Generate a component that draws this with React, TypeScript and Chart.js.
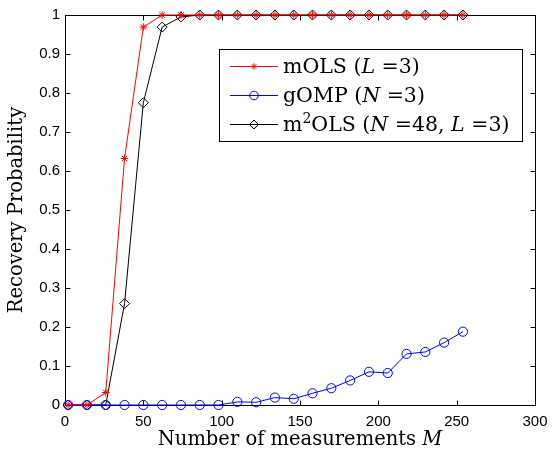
import { useEffect, useRef } from "react";
import { Chart, registerables } from "chart.js";
Chart.register(...registerables);

// ---- data ----
const measurements = [2, 14, 26, 38, 50, 62, 74, 86, 98, 110, 122, 134, 146, 158, 170, 182, 194, 206, 218, 230, 242, 254];
const mOLS = [0, 0, 0.032, 0.632, 0.969, 1, 1, 1, 1, 1, 1, 1, 1, 1, 1, 1, 1, 1, 1, 1, 1, 1];
const gOMP = [0, 0, 0, 0, 0, 0, 0, 0, 0, 0.008, 0.007, 0.019, 0.016, 0.03, 0.043, 0.063, 0.085, 0.082, 0.131, 0.136, 0.16, 0.188];
const m2OLS = [0, 0, 0, 0.26, 0.775, 0.969, 0.995, 1, 1, 1, 1, 1, 1, 1, 1, 1, 1, 1, 1, 1, 1, 1];
const xTicks = [0, 50, 100, 150, 200, 250, 300];
const yTicks = [0, 0.1, 0.2, 0.3, 0.4, 0.5, 0.6, 0.7, 0.8, 0.9, 1];
const yTickLabels = ["0", "0.1", "0.2", "0.3", "0.4", "0.5", "0.6", "0.7", "0.8", "0.9", "1"];
const xTitleParts = [
  { t: "Number of measurements " },
  { t: "M", it: true },
];
const yTitle = "Recovery Probability";
const legendLabels = [
  [{ t: "mOLS (" }, { t: "L", it: true }, { t: " =3)" }],
  [{ t: "gOMP (" }, { t: "N", it: true }, { t: " =3)" }],
  [{ t: "m" }, { t: "2", sup: true }, { t: "OLS (" }, { t: "N", it: true }, { t: " =48, " }, { t: "L", it: true }, { t: " =3)" }],
];

// ---- styles ----
const SERIF = "'DejaVu Serif', serif";
const SANS = "'Liberation Sans', Arial, sans-serif";
const TITLE_SIZE = 19.5;
const LEGEND_SIZE = 20.5;
const COLORS = ["#ff0000", "#0000ff", "#000000"];
const MARKERS = ["star", "circle", "rectRot"];
const RADII = [3.8, 4.6, 5];
const LEGEND_RADII = [3.2, 4.3, 4.5];

type Part = { t: string; it?: boolean; sup?: boolean };

function drawRich(ctx: CanvasRenderingContext2D, parts: Part[], x: number, y: number, size: number, align: "left" | "center") {
  const fontFor = (p: Part) => `${p.it ? "italic " : ""}${p.sup ? Math.round(size * 0.7) : size}px ${SERIF}`;
  let total = 0;
  for (const p of parts) {
    ctx.font = fontFor(p);
    total += ctx.measureText(p.t).width;
  }
  let cx = align === "center" ? x - total / 2 : x;
  ctx.textAlign = "left";
  ctx.textBaseline = "alphabetic";
  for (const p of parts) {
    ctx.font = fontFor(p);
    ctx.fillText(p.t, cx, p.sup ? y - size * 0.4 : y);
    cx += ctx.measureText(p.t).width;
  }
}

function drawMarker(ctx: CanvasRenderingContext2D, style: string, x: number, y: number, r: number, color: string) {
  ctx.save();
  ctx.strokeStyle = color;
  ctx.lineWidth = 1;
  ctx.beginPath();
  if (style === "circle") {
    ctx.arc(x, y, r, 0, Math.PI * 2);
  } else if (style === "rectRot") {
    ctx.moveTo(x, y - r);
    ctx.lineTo(x + r, y);
    ctx.lineTo(x, y + r);
    ctx.lineTo(x - r, y);
    ctx.closePath();
  } else {
    const d = r * Math.SQRT1_2;
    ctx.moveTo(x - r, y); ctx.lineTo(x + r, y);
    ctx.moveTo(x, y - r); ctx.lineTo(x, y + r);
    ctx.moveTo(x - d, y - d); ctx.lineTo(x + d, y + d);
    ctx.moveTo(x - d, y + d); ctx.lineTo(x + d, y - d);
  }
  ctx.stroke();
  ctx.restore();
}

const framePlugin = {
  id: "frame",
  beforeDatasetsDraw(chart: any) {
    const { ctx, chartArea, scales } = chart;
    const L = Math.round(chartArea.left) + 0.5;
    const R = Math.round(chartArea.right) + 0.5;
    const T = Math.round(chartArea.top) + 0.5;
    const B = Math.round(chartArea.bottom) + 0.5;
    ctx.save();
    ctx.strokeStyle = "#000";
    ctx.lineWidth = 1;
    ctx.strokeRect(L, T, R - L, B - T);
    ctx.beginPath();
    for (const v of xTicks) {
      const px = Math.round(scales.x.getPixelForValue(v)) + 0.5;
      ctx.moveTo(px, B); ctx.lineTo(px, B - 5);
      ctx.moveTo(px, T); ctx.lineTo(px, T + 5);
    }
    for (const v of yTicks) {
      const py = Math.round(scales.y.getPixelForValue(v)) + 0.5;
      ctx.moveTo(L, py); ctx.lineTo(L + 5, py);
      ctx.moveTo(R, py); ctx.lineTo(R - 5, py);
    }
    ctx.stroke();
    ctx.restore();
  },
  afterDatasetsDraw(chart: any) {
    const { ctx, chartArea } = chart;
    ctx.save();
    ctx.fillStyle = "#000";
    // x title
    drawRich(ctx, xTitleParts, (chartArea.left + chartArea.right) / 2, 445, TITLE_SIZE, "center");
    // y title
    ctx.save();
    ctx.translate(22, (chartArea.top + chartArea.bottom) / 2);
    ctx.rotate(-Math.PI / 2);
    drawRich(ctx, [{ t: yTitle }], 0, 0, TITLE_SIZE, "center");
    ctx.restore();
    // legend
    const bx = 219.5, by = 49.5, bw = 303, bh = 92;
    ctx.fillStyle = "#fff";
    ctx.fillRect(bx, by, bw, bh);
    ctx.strokeStyle = "#000";
    ctx.lineWidth = 1;
    ctx.strokeRect(bx, by, bw, bh);
    const rowsY = [66, 95, 124];
    legendLabels.forEach((parts, i) => {
      const y = rowsY[i];
      ctx.strokeStyle = COLORS[i];
      ctx.beginPath();
      ctx.moveTo(230, y + 0.5);
      ctx.lineTo(278, y + 0.5);
      ctx.stroke();
      drawMarker(ctx, MARKERS[i], 254, y + 0.5, LEGEND_RADII[i], COLORS[i]);
      ctx.fillStyle = "#000";
      drawRich(ctx, parts as Part[], 283, y + 7, LEGEND_SIZE, "left");
    });
    ctx.restore();
  },
};

export default function App() {
  const ref = useRef<HTMLCanvasElement>(null);
  useEffect(() => {
    const canvas = ref.current!;
    const series = [mOLS, gOMP, m2OLS];
    const chart = new Chart(canvas, {
      type: "line",
      data: {
        datasets: series.map((vals, i) => ({
          data: measurements.map((m, j) => ({ x: m, y: vals[j] })),
          borderColor: COLORS[i],
          backgroundColor: "rgba(0,0,0,0)",
          borderWidth: 1,
          pointStyle: MARKERS[i] as any,
          pointRadius: RADII[i],
          pointBorderColor: COLORS[i],
          pointBackgroundColor: "rgba(0,0,0,0)",
          pointBorderWidth: 1,
          tension: 0,
          clip: false as any,
        })),
      },
      options: {
        animation: false,
        responsive: false,
        devicePixelRatio: 1,
        layout: { padding: { left: 0, top: 15, right: 17, bottom: 0 } },
        plugins: { legend: { display: false }, tooltip: { enabled: false } },
        scales: {
          x: {
            type: "linear",
            min: 0,
            max: 300,
            afterBuildTicks: (s: any) => { s.ticks = xTicks.map((v) => ({ value: v })); },
            afterFit: (s: any) => { s.height = 49; s.paddingLeft = 0; s.paddingRight = 0; },
            grid: { display: false, drawTicks: false },
            border: { display: false },
            ticks: { font: { family: SANS, size: 15 }, color: "#000", padding: 8, maxRotation: 0 },
          },
          y: {
            type: "linear",
            min: 0,
            max: 1,
            afterBuildTicks: (s: any) => { s.ticks = yTicks.map((v) => ({ value: v })); },
            afterFit: (s: any) => { s.width = 65; s.paddingTop = 0; s.paddingBottom = 0; },
            grid: { display: false, drawTicks: false },
            border: { display: false },
            ticks: {
              font: { family: SANS, size: 15 },
              color: "#000",
              padding: 5,
              callback: (v: any) => {
                const idx = yTicks.findIndex((t) => Math.abs(t - Number(v)) < 1e-9);
                return idx >= 0 ? yTickLabels[idx] : "";
              },
            },
          },
        },
      },
      plugins: [framePlugin],
    });
    return () => chart.destroy();
  }, []);
  return (
    <div style={{ position: "absolute", left: 0, top: 0, width: 552, height: 454, background: "#fff" }}>
      <canvas ref={ref} width={552} height={454} style={{ width: 552, height: 454, display: "block" }} />
    </div>
  );
}
